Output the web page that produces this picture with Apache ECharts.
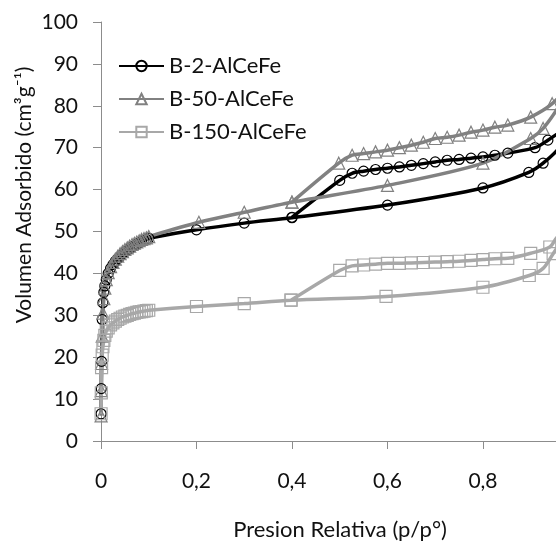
<!DOCTYPE html>
<html>
<head>
<meta charset="utf-8">
<script src="https://cdn.jsdelivr.net/npm/echarts@6/dist/echarts.min.js"></script>
<style>
  html, body { margin: 0; padding: 0; background: #fff; }
  #chart { width: 556px; height: 544px; }
</style>
</head>
<body>
<div id="chart"></div>
<script>
// presion relativa (p/p°) y volumen adsorbido, rama de adsorcion y desorcion
var lowP = [0.0002, 0.0006, 0.0012, 0.0025, 0.004, 0.006, 0.008, 0.011, 0.015, 0.02, 0.025, 0.03, 0.035,
  0.04, 0.045, 0.05, 0.055, 0.06, 0.065, 0.07, 0.075, 0.08, 0.085, 0.09, 0.095, 0.1]

var b2AdsP = lowP.concat([0.2, 0.3, 0.4, 0.6, 0.8, 0.896, 0.926, 0.96, 0.99])
var b2AdsV = [6.5, 12.5, 19, 29, 33, 35.5, 37, 38.5, 40, 41.2, 42.1, 42.9, 43.5, 44.1, 44.6, 45.1, 45.5,
  45.9, 46.3, 46.6, 47, 47.3, 47.6, 47.9, 48.1, 48.4,
  50.4, 52, 53.3, 56.3, 60.4, 64.1, 66.3, 70, 76]
var b2DesP = [0.936, 0.909, 0.852, 0.825, 0.8, 0.775, 0.75, 0.725, 0.7, 0.675, 0.65, 0.625, 0.6, 0.575, 0.55, 0.526, 0.5, 0.4]
var b2DesV = [71.8, 70, 68.7, 68.2, 67.8, 67.5, 67.2, 67, 66.6, 66.2, 65.8, 65.4, 65.1, 64.8, 64.4, 63.9, 62.2, 53.4]

var b50AdsP = lowP.concat([0.205, 0.3, 0.4, 0.6, 0.8, 0.9, 0.926, 0.96, 0.99])
var b50AdsV = [6, 12, 18.5, 25, 30.5, 34, 36.5, 38.5, 40.2, 41.6, 42.6, 43.4, 44.1, 44.7, 45.2, 45.7, 46.1,
  46.5, 46.9, 47.2, 47.5, 47.8, 48.1, 48.3, 48.5, 48.8,
  52.2, 54.6, 57, 61, 66.3, 72.2, 74.6, 80, 86]
var b50DesP = [0.945, 0.9, 0.852, 0.825, 0.8, 0.775, 0.75, 0.725, 0.7, 0.675, 0.65, 0.625, 0.6, 0.575, 0.55, 0.526, 0.498, 0.4]
var b50DesV = [80.5, 77.3, 75.4, 74.9, 74.2, 73.7, 73, 72.5, 72.2, 71.3, 70.6, 70, 69.4, 69, 68.6, 68.2, 66.3, 57]

var b150AdsP = lowP.concat([0.2, 0.3, 0.398, 0.597, 0.8, 0.897, 0.926, 0.947, 0.99])
var b150AdsV = [6.5, 11.5, 17.5, 20.5, 22.5, 24, 25.2, 26.2, 27, 27.7, 28.2, 28.6, 29, 29.3, 29.6, 29.8, 30,
  30.2, 30.4, 30.5, 30.7, 30.8, 30.9, 31, 31.1, 31.2,
  32.1, 32.8, 33.6, 34.5, 36.7, 39.5, 41.2, 44.7, 52]
var b150DesP = [0.955, 0.94, 0.9, 0.852, 0.825, 0.8, 0.775, 0.75, 0.725, 0.7, 0.675, 0.65, 0.625, 0.6, 0.575, 0.55, 0.526, 0.5, 0.398]
var b150DesV = [48.6, 46.3, 44.8, 43.6, 43.5, 43.3, 43.1, 42.9, 42.8, 42.7, 42.6, 42.5, 42.4, 42.4, 42.2, 42, 41.8, 40.7, 33.6]

var yTicks = [0, 10, 20, 30, 40, 50, 60, 70, 80, 90, 100]

function pairs (px, py, dx, dy) {
  var out = []
  for (var i = 0; i < px.length; i++) out.push([px[i], py[i]])
  for (var j = 0; j < dx.length; j++) out.push([dx[j], dy[j]])
  return out
}

var font = 'Lato'
var axisGray = '#8c8c8c'

function serie (name, data, color, symbol, size, width) {
  return {
    name: name,
    type: 'line',
    data: data,
    smooth: 0.3,
    symbol: symbol,
    symbolSize: size,
    lineStyle: { color: color, width: width },
    itemStyle: { color: 'rgba(255,255,255,0)', borderColor: color, borderWidth: 1.2 },
    emphasis: { disabled: true }
  }
}

var chart = echarts.init(document.getElementById('chart'))
chart.setOption({
  backgroundColor: '#ffffff',
  animation: false,
  grid: { left: 101, top: 22, right: 0, bottom: 103, containLabel: false },
  legend: {
    orient: 'vertical',
    left: 113,
    top: 50,
    itemWidth: 45,
    itemHeight: 13,
    itemGap: 11,
    textStyle: { fontFamily: font, fontSize: 22, color: '#111' },
    data: ['B-2-AlCeFe', 'B-50-AlCeFe', 'B-150-AlCeFe']
  },
  graphic: [
    {
      type: 'text',
      x: 340,
      y: 530,
      style: {
        text: 'Presion Relativa (p/p°)',
        fontFamily: font,
        fontSize: 22,
        fill: '#111',
        align: 'center',
        verticalAlign: 'middle'
      }
    },
    {
      type: 'text',
      x: 24,
      y: 195,
      rotation: Math.PI / 2,
      style: {
        text: 'Volumen Adsorbido (cm³g⁻¹)',
        fontFamily: font,
        fontSize: 21,
        fill: '#111',
        align: 'center',
        verticalAlign: 'middle'
      }
    }
  ],
  xAxis: {
    type: 'value',
    min: 0,
    max: 0.953,
    interval: 0.2,
    axisLine: { lineStyle: { color: axisGray, width: 1 } },
    axisTick: { show: true, length: 8, lineStyle: { color: axisGray } },
    axisLabel: {
      margin: 30,
      showMaxLabel: false,
      fontFamily: font,
      fontSize: 21,
      color: '#111',
      formatter: function (v) { return String(Math.round(v * 10) / 10).replace('.', ',') }
    },
    splitLine: { show: false }
  },
  yAxis: {
    type: 'value',
    min: yTicks[0],
    max: yTicks[yTicks.length - 1],
    interval: 10,
    axisLine: { show: true, lineStyle: { color: axisGray, width: 1 } },
    axisTick: { show: true, length: 8, lineStyle: { color: axisGray } },
    axisLabel: { margin: 23, fontFamily: font, fontSize: 21, color: '#111' },
    splitLine: { show: false }
  },
  series: [
    serie('B-2-AlCeFe', pairs(b2AdsP, b2AdsV, b2DesP, b2DesV), '#000000', 'circle', 10, 3.5),
    serie('B-50-AlCeFe', pairs(b50AdsP, b50AdsV, b50DesP, b50DesV), '#818181', 'triangle', 12, 3.5),
    serie('B-150-AlCeFe', pairs(b150AdsP, b150AdsV, b150DesP, b150DesV), '#a8a8a8', 'rect', 12, 3.5)
  ]
})
</script>
</body>
</html>
